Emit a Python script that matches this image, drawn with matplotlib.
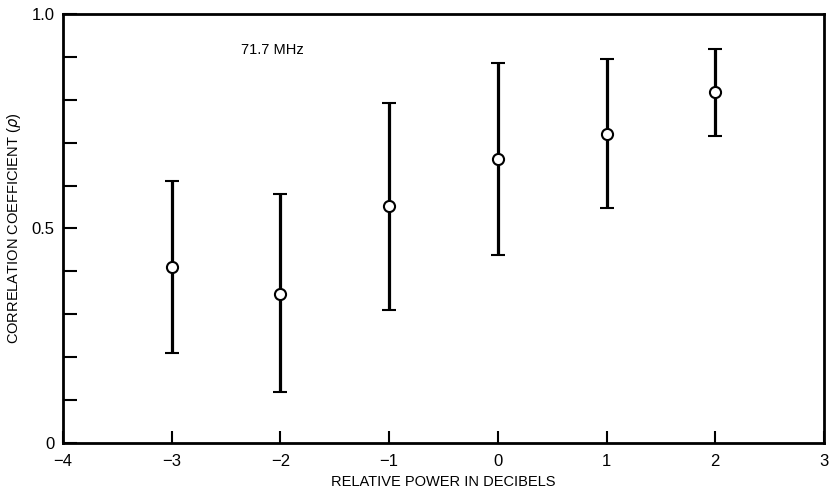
import numpy as np
import matplotlib
matplotlib.use("Agg")
from matplotlib import pyplot as plt

plt.rcParams['font.family'] = ['Liberation Sans', 'DejaVu Sans']

# relative power (dB) vs correlation coefficient, 71.7 MHz
power_db = [-3, -2, -1, 0, 1, 2]
rho = [0.41, 0.347, 0.552, 0.662, 0.72, 0.819]
rho_low = [0.21, 0.12, 0.31, 0.438, 0.547, 0.716]
rho_high = [0.611, 0.58, 0.793, 0.886, 0.894, 0.918]

x_ticks = [-4, -3, -2, -1, 0, 1, 2, 3]
y_ticks = np.round(np.arange(0, 1.01, 0.1), 1)
y_labels = ["0", "", "", "", "", "0.5", "", "", "", "", "1.0"]

rho = np.array(rho)
err = [rho - np.array(rho_low), np.array(rho_high) - rho]

fig = plt.figure(figsize=(8.3, 4.94), dpi=100)
ax = fig.add_axes([0.0759, 0.1032, 0.9169, 0.8685])

ax.errorbar(power_db, rho, yerr=err, fmt="o", color="black", ecolor="black",
            elinewidth=2.3, capsize=5, capthick=1.8,
            markersize=8, markerfacecolor="white", markeredgecolor="black",
            markeredgewidth=1.5, zorder=3)

ax.set_xlim(-4, 3)
ax.set_ylim(0, 1.0)
ax.set_xticks(x_ticks)
ax.set_yticks(y_ticks)
ax.set_yticklabels(y_labels)
ax.tick_params(direction="in", length=9, width=1.5, labelsize=12, pad=6)
ax.tick_params(axis="x", pad=8)
ax.tick_params(axis="y", length=10)
for s in ax.spines.values():
    s.set_linewidth(2)

ax.text(-2.36, 0.916, "71.7 MHz", fontsize=10.5, va="center", ha="left")
ax.set_xlabel("RELATIVE POWER IN DECIBELS", fontsize=10.5, labelpad=4)
ax.set_ylabel("CORRELATION COEFFICIENT ($\\rho$)", fontsize=10.5, labelpad=6)

plt.savefig("out.png", dpi=100)
